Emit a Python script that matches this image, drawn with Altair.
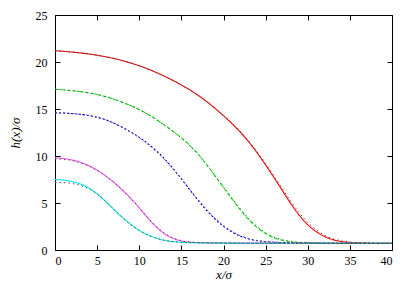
import altair as alt
import pandas as pd

# ---- data ----
red_x = [0, 3, 6, 9, 12, 15, 17, 19, 21, 23, 25, 27, 29, 31, 33, 35, 37, 40]
red_h = [21.2, 21.0, 20.6, 19.95, 18.95, 17.6, 16.5, 15.1, 13.5, 11.6, 9.1, 6.3, 3.5, 1.8, 1.0, 0.78, 0.72, 0.7]
red_fit = [21.2, 21.0, 20.6, 19.95, 18.95, 17.6, 16.5, 15.1, 13.55, 11.7, 9.25, 6.5, 3.8, 2.0, 1.1, 0.8, 0.72, 0.7]

green_x = [0, 3, 6, 9, 11, 13, 15, 17, 19, 21, 23, 25, 27, 29, 32, 40]
green_h = [17.1, 16.9, 16.4, 15.4, 14.5, 13.3, 12.0, 10.3, 7.9, 5.4, 3.1, 1.6, 0.95, 0.76, 0.71, 0.7]
green_fit = [17.1, 16.9, 16.4, 15.4, 14.5, 13.3, 11.95, 10.3, 7.9, 5.5, 3.2, 1.7, 1.0, 0.78, 0.71, 0.7]

blue_x = [0, 3, 6, 9, 11, 13, 15, 17, 19, 21, 23, 25, 28, 40]
blue_h = [14.6, 14.5, 14.0, 12.6, 11.4, 9.8, 7.6, 5.2, 3.2, 1.8, 1.1, 0.85, 0.74, 0.7]
blue_fit = [14.6, 14.5, 14.0, 12.6, 11.3, 9.7, 7.6, 5.3, 3.3, 1.9, 1.15, 0.85, 0.74, 0.7]

magenta_x = [0, 1, 2, 3, 4, 5, 6, 7, 8, 9, 10, 11, 12, 13, 14, 15, 16, 18, 40]
magenta_h = [9.8, 9.75, 9.6, 9.35, 9.0, 8.5, 7.9, 7.2, 6.4, 5.5, 4.5, 3.4, 2.4, 1.7, 1.2, 0.95, 0.82, 0.73, 0.7]
magenta_fit = [9.7, 9.65, 9.55, 9.3, 8.95, 8.5, 7.9, 7.2, 6.4, 5.5, 4.5, 3.45, 2.5, 1.75, 1.25, 0.97, 0.83, 0.73, 0.7]

cyan_x = [0, 1, 2, 3, 4, 5, 6, 7, 8, 9, 10, 11, 12, 13, 14, 16, 20, 40]
cyan_h = [7.5, 7.45, 7.3, 7.05, 6.65, 6.0, 5.2, 4.3, 3.45, 2.7, 2.05, 1.6, 1.25, 1.02, 0.88, 0.76, 0.72, 0.7]
cyan_fit = [7.2, 7.18, 7.1, 6.9, 6.55, 5.98, 5.2, 4.3, 3.45, 2.7, 2.05, 1.6, 1.25, 1.02, 0.88, 0.76, 0.72, 0.7]

series_names = ["red", "green", "blue", "magenta", "cyan"]
series_colors = ["#ff0000", "#00f000", "#0000ff", "#ff50ff", "#00eaea"]
series_dash = [[1, 0], [4, 2], [2, 2], [1, 0], [1, 0]]

x_ticks = [0, 5, 10, 15, 20, 25, 30, 35, 40]
y_ticks = [0, 5, 10, 15, 20, 25]

# ---- build tables ----
rows, fit_rows = [], []
for name, xs, hs, fs in [
    ("red", red_x, red_h, red_fit),
    ("green", green_x, green_h, green_fit),
    ("blue", blue_x, blue_h, blue_fit),
    ("magenta", magenta_x, magenta_h, magenta_fit),
    ("cyan", cyan_x, cyan_h, cyan_fit),
]:
    for i, (x, h, f) in enumerate(zip(xs, hs, fs)):
        rows.append({"x": x, "h": h, "series": name, "o": i})
        fit_rows.append({"x": x, "h": f, "series": name, "o": i})
df = pd.DataFrame(rows)
df_fit = pd.DataFrame(fit_rows)

FONT = "Liberation Serif"
xscale = alt.Scale(domain=[0, 40], nice=False, zero=False)
yscale = alt.Scale(domain=[0, 25], nice=False, zero=False)

x_bottom = alt.Axis(orient="bottom", values=x_ticks, labelPadding=5,
                    title="x/σ", titlePadding=2, format="d",
                    domain=False, tickSize=5, offset=-5, grid=False)
y_left = alt.Axis(orient="left", values=y_ticks, labelPadding=8,
                  title="h(x)/σ", titlePadding=13, format="d",
                  domain=False, tickSize=5, offset=-5, grid=False)
x_top = alt.Axis(orient="top", values=x_ticks, labels=False, title=None,
                 domain=False, tickSize=5, offset=-5, grid=False)
y_right = alt.Axis(orient="right", values=y_ticks, labels=False, title=None,
                   domain=False, tickSize=5, offset=-5, grid=False)

lines = alt.Chart(df).mark_line(strokeWidth=1.1, interpolate="basis").encode(
    x=alt.X("x:Q", scale=xscale, axis=x_bottom),
    y=alt.Y("h:Q", scale=yscale, axis=y_left),
    color=alt.Color("series:N", scale=alt.Scale(domain=series_names, range=series_colors), legend=None),
    strokeDash=alt.StrokeDash("series:N", scale=alt.Scale(domain=series_names, range=series_dash), legend=None),
    order="o:Q",
)

fits = alt.Chart(df_fit).mark_line(
    color="#505050", strokeWidth=1, strokeDash=[1.5, 3], interpolate="basis"
).encode(
    x=alt.X("x:Q", scale=xscale, axis=None),
    y=alt.Y("h:Q", scale=yscale, axis=None),
    detail="series:N",
    order="o:Q",
)

mirror = alt.Chart(df).mark_line(opacity=0).encode(
    x=alt.X("x:Q", scale=xscale, axis=x_top),
    y=alt.Y("h:Q", scale=yscale, axis=y_right),
    detail="series:N",
)

chart = alt.layer(lines, fits, mirror).resolve_axis(
    x="independent", y="independent"
).properties(
    width=337, height=235,
    background="white",
    autosize=alt.AutoSizeParams(type="none"),
    padding={"left": 47, "top": 7, "right": 15, "bottom": 33},
).configure_view(
    stroke="black", strokeWidth=1
).configure_axis(
    labelFont=FONT, labelFontSize=12, labelColor="black",
    titleFont=FONT, titleFontSize=13, titleColor="black",
    titleFontWeight="normal", titleFontStyle="italic",
    tickColor="black", tickWidth=1,
)

chart.save("out.html", embed_options={"renderer": "svg", "actions": False})
